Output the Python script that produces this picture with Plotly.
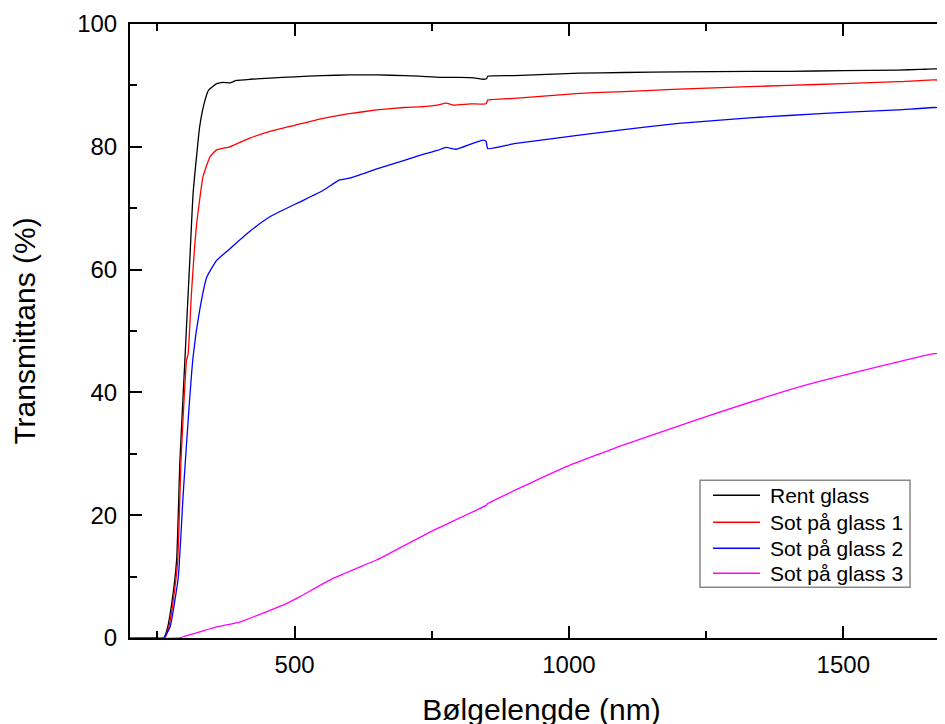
import plotly.graph_objects as go

# ---- data ----
wl_rent = [200, 250, 262, 268, 276, 285, 291, 300, 303, 309, 315, 327, 335, 343, 358, 370, 382, 394,
           420, 455, 500, 550, 600, 650, 700, 728, 766, 800, 830, 843, 850, 852, 900, 1019, 1100,
           1200, 1329, 1400, 1500, 1600, 1640, 1665, 1700]
t_rent = [0, 0, 0, 1.5, 5.6, 12.7, 29.0, 45.2, 50.7, 61.5, 72.4, 83.3, 87.0, 89.2, 90.3, 90.5, 90.4, 90.8,
          91.0, 91.2, 91.4, 91.6, 91.7, 91.7, 91.6, 91.5, 91.3, 91.3, 91.2, 91.0, 91.1, 91.5, 91.6, 92.0, 92.1,
          92.2, 92.3, 92.3, 92.4, 92.5, 92.6, 92.7, 92.5]

wl_sot1 = [200, 263, 270, 278, 287, 293, 303, 306, 312, 321, 333, 346, 358, 382, 418, 455, 500, 550,
           600, 650, 700, 728, 760, 776, 790, 820, 849, 852, 900, 1019, 1100, 1200, 1329, 1400, 1500,
           1600, 1665, 1700]
t_sot1 = [0, 0, 1.5, 5.6, 12.7, 29.0, 45.2, 46.3, 56.1, 67.0, 75.1, 78.4, 79.5, 80.0, 81.4, 82.5, 83.5, 84.6,
          85.4, 86.0, 86.4, 86.5, 86.8, 87.1, 86.8, 87.0, 87.0, 87.6, 87.9, 88.7, 89.0, 89.4, 89.8, 90.0, 90.3,
          90.6, 90.9, 90.7]

wl_sot2 = [200, 261, 273, 288, 297, 315, 327, 340, 358, 382, 418, 455, 509, 550, 582, 600, 650, 700,
           728, 760, 776, 795, 820, 843, 849, 852, 900, 1019, 1100, 1200, 1329, 1400, 1500, 1600, 1665, 1700]
t_sot2 = [0, 0, 1.8, 9.9, 23.5, 45.8, 53.4, 58.8, 61.5, 63.4, 66.2, 68.6, 71.0, 72.8, 74.6, 74.9, 76.4, 77.8,
          78.6, 79.4, 79.9, 79.6, 80.4, 81.1, 80.9, 79.7, 80.5, 81.9, 82.8, 83.8, 84.7, 85.1, 85.6, 86.0, 86.4, 86.2]

wl_sot3 = [200, 291, 300, 327, 358, 400, 455, 485, 509, 570, 649, 667, 752, 849, 852, 995, 1056, 1092,
           1238, 1420, 1602, 1665, 1700]
t_sot3 = [0, 0, 0.3, 1.0, 1.8, 2.6, 4.5, 5.6, 6.7, 9.7, 12.7, 13.5, 17.5, 21.6, 21.9, 27.9, 30.0, 31.2,
          35.7, 40.9, 45.0, 46.3, 46.6]

names = ["Rent glass", "Sot på glass 1", "Sot på glass 2", "Sot på glass 3"]
colors = ["#000000", "#ff0000", "#0000ff", "#ff00ff"]
series = [(wl_rent, t_rent), (wl_sot1, t_sot1), (wl_sot2, t_sot2), (wl_sot3, t_sot3)]

x_range = [200, 1700]
y_range = [0, 100]
x_ticks = [500, 1000, 1500]
y_ticks = [0, 20, 40, 60, 80, 100]

FONT = "Liberation Sans, Arial, sans-serif"

fig = go.Figure()
for (x, y), n, c in zip(series, names, colors):
    fig.add_trace(go.Scatter(x=x, y=y, mode="lines", name=n, showlegend=False,
                             line=dict(color=c, width=1.3, shape="spline", smoothing=0.4)))

# ---- legend box drawn in paper coordinates (layout only) ----
leg_left, leg_right, leg_top, leg_bottom = 0.6926, 0.9478, 0.2570, 0.0826
sample_x0, sample_x1, text_x = 0.7084, 0.7655, 0.7752
row_y = [0.2325, 0.1885, 0.1462, 0.1054]

fig.add_shape(type="rect", xref="paper", yref="paper",
              x0=leg_left, x1=leg_right, y0=leg_bottom, y1=leg_top,
              line=dict(color="#888888", width=1.5), fillcolor="white", layer="above")
for n, c, ry in zip(names, colors, row_y):
    fig.add_shape(type="line", xref="paper", yref="paper",
                  x0=sample_x0, x1=sample_x1, y0=ry, y1=ry,
                  line=dict(color=c, width=1.5), layer="above")
    fig.add_annotation(xref="paper", yref="paper", x=text_x, y=ry, text=n,
                       showarrow=False, xanchor="left", yanchor="middle",
                       font=dict(family=FONT, size=21, color="#000000"))

fig.update_layout(
    width=945, height=724,
    margin=dict(l=122, r=0, t=16, b=94),
    plot_bgcolor="white", paper_bgcolor="white",
    font=dict(family=FONT, color="#000000"),
    showlegend=False,
    xaxis=dict(
        range=x_range, tickvals=x_ticks, ticks="inside", ticklen=12, tickwidth=2,
        tickcolor="black", showline=True, linecolor="black", linewidth=2,
        mirror="ticks", showgrid=False, zeroline=False, automargin=False,
        tickfont=dict(family=FONT, size=24), ticklabelstandoff=4,
        minor=dict(dtick=250, tick0=0, ticks="inside", ticklen=7, tickwidth=2, tickcolor="black", showgrid=False),
        title=dict(text="Bølgelengde (nm)", font=dict(family=FONT, size=30), standoff=22),
    ),
    yaxis=dict(
        range=y_range, tickvals=y_ticks, ticks="inside", ticklen=12, tickwidth=2,
        tickcolor="black", showline=True, linecolor="black", linewidth=2,
        mirror="ticks", showgrid=False, zeroline=False, automargin=False,
        tickfont=dict(family=FONT, size=24), ticklabelstandoff=6,
        minor=dict(dtick=10, tick0=0, ticks="inside", ticklen=7, tickwidth=2, tickcolor="black", showgrid=False),
        title=dict(text="Transmittans (%)", font=dict(family=FONT, size=30), standoff=36),
    ),
)

fig.write_html("out.html")
